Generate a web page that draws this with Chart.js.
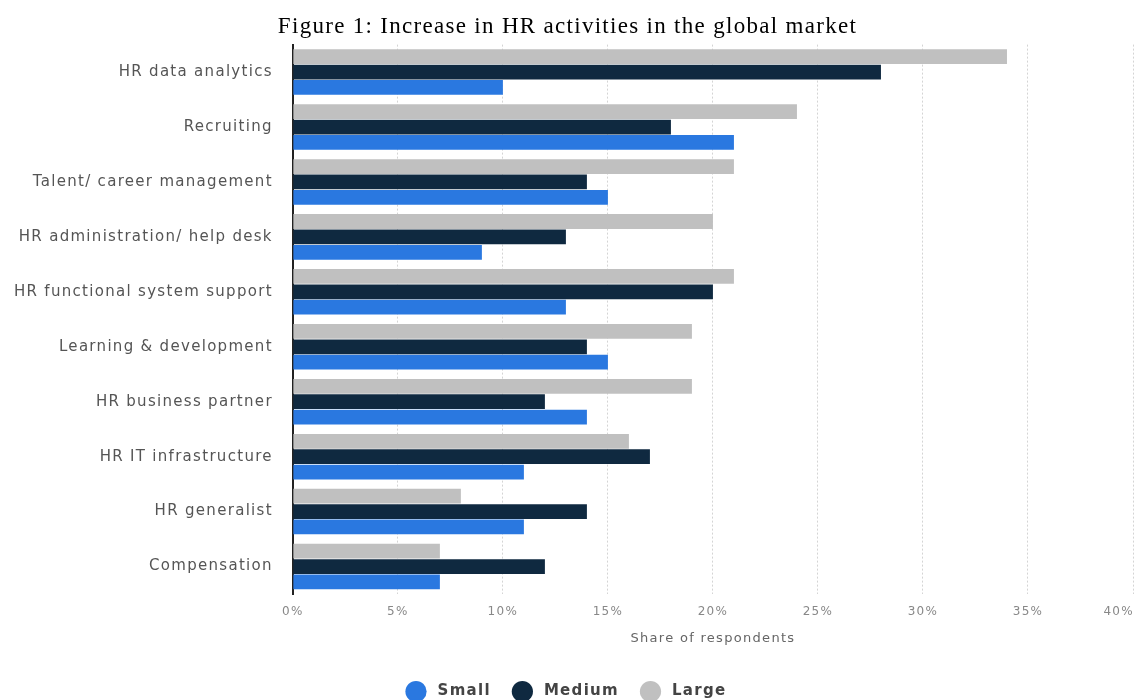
<!DOCTYPE html>
<html>
<head>
<meta charset="utf-8">
<script src="https://cdn.jsdelivr.net/npm/chart.js@4/dist/chart.umd.min.js"></script>
<style>
html,body{margin:0;padding:0;background:#fff;overflow:hidden;}
#wrap{position:relative;width:1135px;height:700px;}
</style>
</head>
<body>
<div id="wrap"><canvas id="c" width="1135" height="700"></canvas></div>
<script>
const categories = ["HR data analytics","Recruiting","Talent/ career management","HR administration/ help desk","HR functional system support","Learning & development","HR business partner","HR IT infrastructure","HR generalist","Compensation"];
const smallValues  = [10,21,15,9,13,15,14,11,11,7];
const mediumValues = [28,18,14,13,20,14,12,17,14,12];
const largeValues  = [34,24,21,20,21,19,19,16,8,7];
const xTickValues = [0,5,10,15,20,25,30,35,40];

Chart.defaults.font.family = "'DejaVu Sans', sans-serif";
const SPACING = '1.3px';
const tickFont = {size:12};
const tickPad = 11;

const spacingPlugin = {
  id: 'spacing',
  beforeInit(chart){ chart.ctx.letterSpacing = SPACING; },
  beforeUpdate(chart){ chart.ctx.letterSpacing = SPACING; },
  beforeLayout(chart){ chart.ctx.letterSpacing = SPACING; },
  beforeDraw(chart){ chart.ctx.letterSpacing = SPACING; }
};

const lastTickPlugin = {
  id: 'lastTick',
  afterDraw(chart){
    const sx = chart.scales.x;
    const ctx = chart.ctx;
    const last = xTickValues[xTickValues.length - 1];
    ctx.save();
    ctx.letterSpacing = SPACING;
    ctx.font = `${tickFont.size}px 'DejaVu Sans', sans-serif`;
    ctx.fillStyle = '#888';
    ctx.textAlign = 'right';
    ctx.textBaseline = 'middle';
    ctx.fillText(last + '%', sx.getPixelForValue(last) + 1, sx.top + tickPad + tickFont.size * 0.6);
    ctx.restore();
  }
};

new Chart(document.getElementById('c'), {
  type: 'bar',
  plugins: [spacingPlugin, lastTickPlugin],
  data: {
    labels: categories,
    datasets: [
      {label:'Large', data: largeValues, backgroundColor:'#c0c0c0'},
      {label:'Medium', data: mediumValues, backgroundColor:'#0f2940'},
      {label:'Small', data: smallValues, backgroundColor:'#2a78e0'}
    ]
  },
  options: {
    indexAxis: 'y',
    responsive: false,
    animation: false,
    datasets: {bar: {barPercentage: 0.96, categoryPercentage: 0.84}},
    layout: {padding: {left: 2, right: 2, top: 0, bottom: -9}},
    scales: {
      x: {
        min: 0, max: 40,
        afterBuildTicks: (ax) => { ax.ticks = xTickValues.map(v => ({value: v})); },
        afterFit: (ax) => { ax.paddingRight = 0; },
        ticks: {color:'#888', font:tickFont, padding: tickPad,
                callback: v => v === xTickValues[xTickValues.length - 1] ? '' : v + '%'},
        grid: {color:'#d4d4d4', lineWidth:1, drawTicks:false},
        border: {display:false, dash:[2,2]},
        title: {display:true, text:'Share of respondents', color:'#666', font:{size:13}, padding:{top:0, bottom:14}}
      },
      y: {
        ticks: {color:'#555', font:{size:15}, padding: 12},
        grid: {display:false},
        border: {display:true, color:'#222', width:2}
      }
    },
    plugins: {
      title: {display:true, text:'Figure 1: Increase in HR activities in the global market', color:'#000',
              font:{family:"'Liberation Serif', 'Times New Roman', serif", size:23, weight:'normal'}, padding:{top:13, bottom:4}},
      legend: {position:'bottom', reverse:true,
        labels:{usePointStyle:true, pointStyle:'circle', boxWidth:17, boxHeight:17, color:'#444', font:{size:15, weight:'bold'}, padding:24,
          generateLabels(chart){
            const items = Chart.defaults.plugins.legend.labels.generateLabels(chart);
            items.forEach(it => { it.text = ' ' + it.text; });
            return items;
          }}},
      tooltip: {enabled:false}
    }
  }
});
</script>
</body>
</html>
